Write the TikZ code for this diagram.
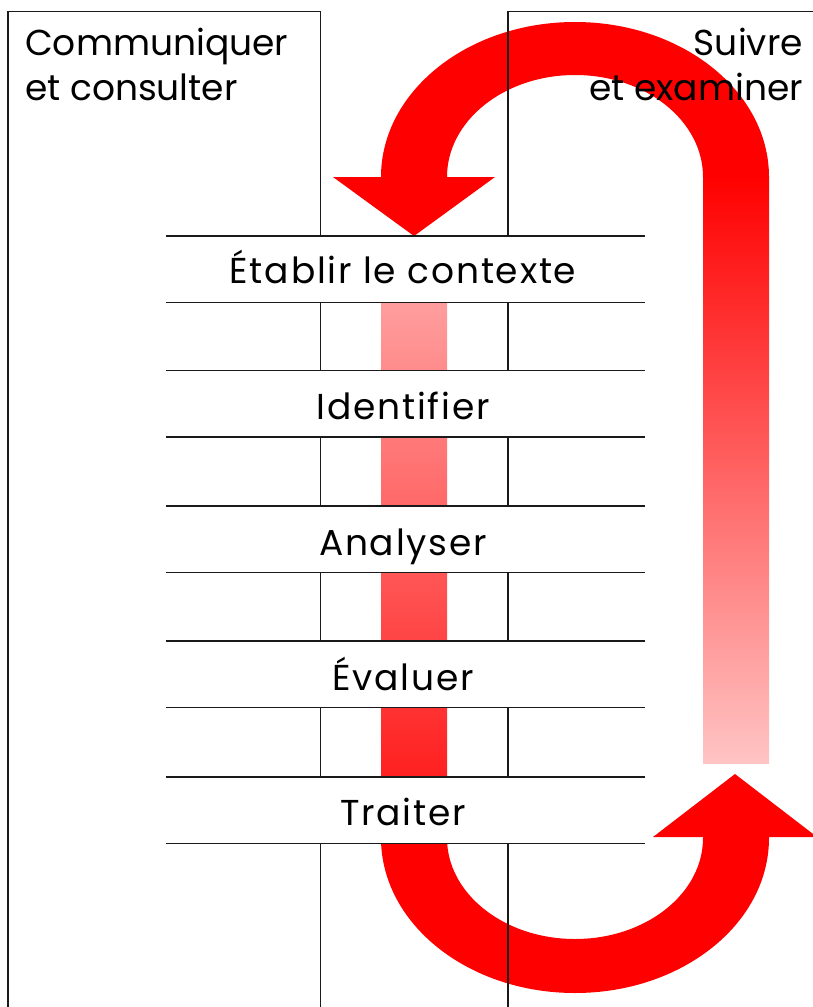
\documentclass[tikz,border=0pt]{standalone}
\usepackage{fontspec}
\setmainfont{Poppins}
\definecolor{arrowred}{HTML}{FF0000}
\definecolor{barTop}{HTML}{FF9E9E}
\definecolor{barBot}{HTML}{FF2020}
\definecolor{rbarBot}{HTML}{FFC4C4}
\definecolor{linecol}{HTML}{1A1A1A}
\newfontfamily\bandfont[LetterSpace=5]{Poppins}
\begin{document}
\begin{tikzpicture}[x=1pt,y=-1pt,
  frame/.style={draw=linecol, line width=1.2pt},
  band/.style={rectangle, fill=white, minimum width=479pt, minimum height=66pt, inner sep=0pt, anchor=north west},
  bandtext/.style={font=\bandfont\fontsize{36}{42}\selectfont, anchor=base, inner sep=0pt},
  cornertext/.style={font=\fontsize{36}{42}\selectfont, inner sep=0pt},
  arrowfill/.style={fill=arrowred}
]
\useasboundingbox (0,0) rectangle (813,1007);
% gradient bars
\shade[top color=barTop, bottom color=barBot] (381,301) rectangle (447,777);
\shade[top color=arrowred, bottom color=rbarBot] (703,176) rectangle (769,763);
% top U-turn arrow
\fill[arrowfill] (769,177) arc[start angle=0, end angle=-180, x radius=194, y radius=155]
  -- (333,177) -- (414,236) -- (495,177) -- (447,177)
  arc[start angle=-180, end angle=0, x radius=128, y radius=102] -- cycle;
% bottom U-turn arrow
\fill[arrowfill] (381,820) -- (381,838) arc[start angle=180, end angle=0, x radius=194, y radius=155]
  -- (769,837) -- (817,837) -- (735,774) -- (653,837) -- (703,837) -- (703,838)
  arc[start angle=0, end angle=180, x radius=128, y radius=101] -- (447,820) -- cycle;
% frames
\draw[frame] (8,1012) -- (8,11.5) -- (320.5,11.5) -- (320.5,1012);
\draw[frame] (508,1012) -- (508,11.5) -- (816,11.5);
% bands
\node[band] (b1) at (166,236) {};
\node[band] (b2) at (166,370.5) {};
\node[band] (b3) at (166,506) {};
\node[band] (b4) at (166,641) {};
\node[band] (b5) at (166,777) {};
\foreach \b in {b1,b2,b3,b4,b5}{
  \draw[frame] (\b.north west) -- (\b.north east) (\b.south west) -- (\b.south east);
}
% texts
\node[bandtext] (t1) at (403,283) {Établir le contexte};
\node[bandtext] (t2) at (403,419) {Identifier};
\node[bandtext] (t3) at (403,555) {Analyser};
\node[bandtext] (t4) at (403,690) {Évaluer};
\node[bandtext] (t5) at (403,825) {Traiter};
\node[cornertext, anchor=base west] (comm) at (25,55) {Communiquer};
\node[cornertext, anchor=base west] (cons) at (25,100) {et consulter};
\node[cornertext, anchor=base east] (suiv) at (803,55) {Suivre};
\node[cornertext, anchor=base east] (exam) at (803,100) {et examiner};
\end{tikzpicture}
\end{document}
